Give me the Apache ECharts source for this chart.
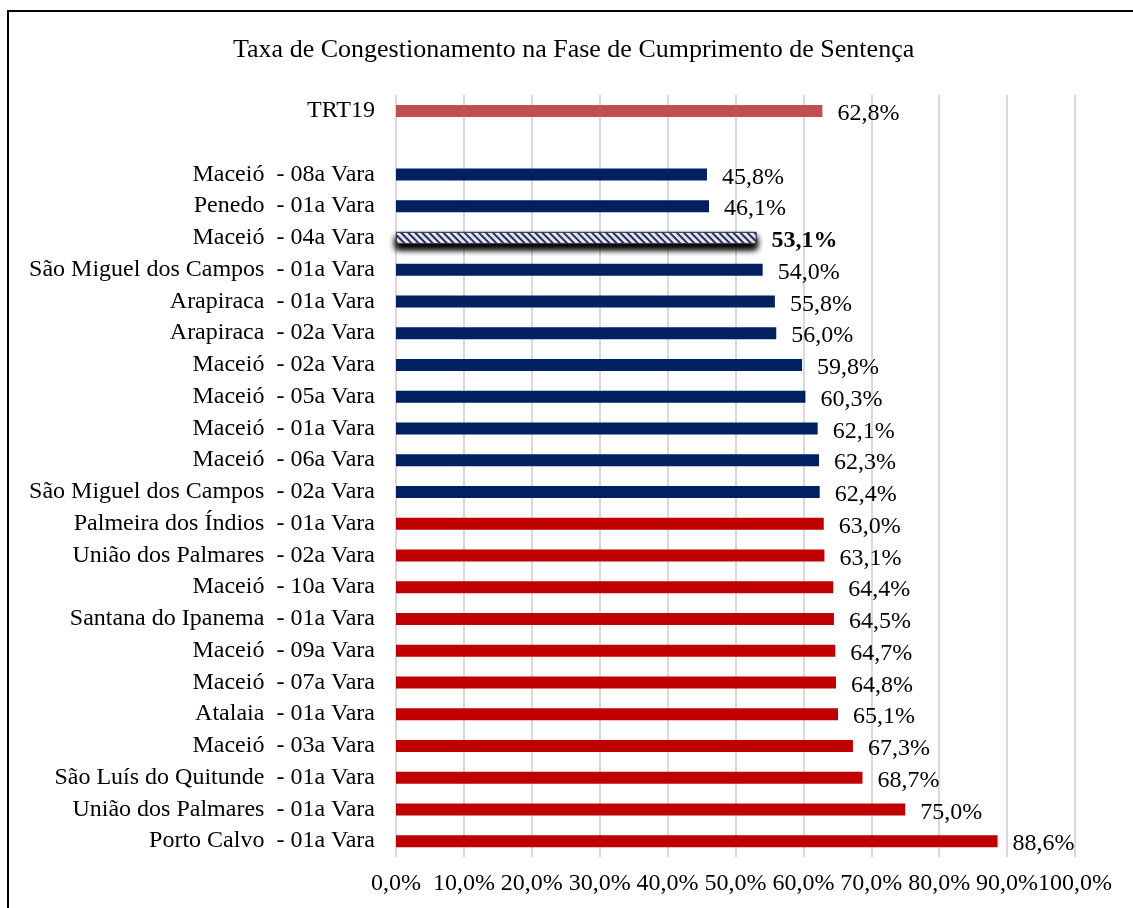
<!DOCTYPE html>
<html>
<head>
    <meta charset="UTF-8"/>
    <script type="text/javascript" src="https://cdn.jsdelivr.net/npm/echarts@6/dist/echarts.min.js"></script>
    <title>Taxa de Congestionamento</title>
    <style>
        body { margin: 0; background: #fff; }
        #barChart { width: 1133px; height: 908px; }
    </style>
</head>
<body>
<div id="barChart"></div>

<script type="application/javascript">
    // categorias (de cima para baixo) e taxas em %
    var categorias = [
        'TRT19', '',
        'Maceió  - 08a Vara', 'Penedo  - 01a Vara', 'Maceió  - 04a Vara',
        'São Miguel dos Campos  - 01a Vara', 'Arapiraca  - 01a Vara', 'Arapiraca  - 02a Vara',
        'Maceió  - 02a Vara', 'Maceió  - 05a Vara', 'Maceió  - 01a Vara', 'Maceió  - 06a Vara',
        'São Miguel dos Campos  - 02a Vara', 'Palmeira dos Índios  - 01a Vara',
        'União dos Palmares  - 02a Vara', 'Maceió  - 10a Vara', 'Santana do Ipanema  - 01a Vara',
        'Maceió  - 09a Vara', 'Maceió  - 07a Vara', 'Atalaia  - 01a Vara', 'Maceió  - 03a Vara',
        'São Luís do Quitunde  - 01a Vara', 'União dos Palmares  - 01a Vara', 'Porto Calvo  - 01a Vara'
    ];
    var taxas = [
        62.8, null,
        45.8, 46.1, 53.1, 54.0, 55.8, 56.0, 59.8, 60.3, 62.1, 62.3, 62.4,
        63.0, 63.1, 64.4, 64.5, 64.7, 64.8, 65.1, 67.3, 68.7, 75.0, 88.6
    ];
    var ticks = [0, 10, 20, 30, 40, 50, 60, 70, 80, 90, 100];
    var referencia = 'TRT19';
    var destaque = 'Maceió  - 04a Vara';

    function fmt(v) {
        return v.toFixed(1).replace('.', ',') + '%';
    }

    function initBar() {
        var myChart = echarts.init(document.getElementById('barChart'));
        var valorRef = taxas[categorias.indexOf(referencia)];

        var dados = [];
        for (var i = 0; i < taxas.length; i++) {
            var cat = categorias[i];
            var v = taxas[i];
            if (v === null) { dados.push(null); continue; }
            var item = { value: v, itemStyle: {}, label: {} };
            if (cat === referencia) {
                item.itemStyle.color = '#C0504D';
            } else if (v < valorRef) {
                item.itemStyle.color = '#002060';
            } else {
                item.itemStyle.color = '#C00000';
            }
            if (cat === destaque) {
                item.itemStyle = {
                    color: '#ffffff',
                    borderColor: '#3b3b5c',
                    borderWidth: 1,
                    shadowColor: 'rgba(0,0,0,0.85)',
                    shadowBlur: 6,
                    shadowOffsetY: 5,
                    decal: {
                        symbol: 'rect',
                        color: '#2a3570',
                        backgroundColor: '#ffffff',
                        dashArrayX: [1, 0],
                        dashArrayY: [1.5, 2.5],
                        rotation: Math.PI / 4
                    }
                };
                item.label = { fontWeight: 'bold' };
            }
            dados.push(item);
        }

        var option = {
            animation: false,
            backgroundColor: '#ffffff',
            title: {
                text: 'Taxa de Congestionamento na Fase de Cumprimento de Sentença',
                left: 228,
                top: 32,
                textStyle: {
                    fontFamily: 'Liberation Serif',
                    fontSize: 26,
                    fontWeight: 'normal',
                    color: '#000'
                }
            },
            graphic: [
                {
                    type: 'rect',
                    shape: { x: 8, y: 11, width: 1300, height: 1000 },
                    style: { fill: 'none', stroke: '#000', lineWidth: 2 },
                    silent: true
                }
            ],
            grid: {
                left: 396,
                right: 58,
                top: 95,
                bottom: 51
            },
            xAxis: {
                type: 'value',
                min: ticks[0],
                max: ticks[ticks.length - 1],
                interval: 10,
                axisLine: { show: false },
                axisTick: { show: false },
                splitLine: { show: true, lineStyle: { color: '#d9d9d9', width: 2 } },
                axisLabel: {
                    margin: 15,
                    fontFamily: 'Liberation Serif',
                    fontSize: 24,
                    color: '#000',
                    hideOverlap: false,
                    formatter: function (v) { return fmt(v); }
                }
            },
            yAxis: {
                type: 'category',
                inverse: true,
                data: categorias,
                axisLine: { show: false },
                axisTick: { show: false },
                axisLabel: {
                    margin: 21,
                    fontFamily: 'Liberation Serif',
                    fontSize: 24,
                    color: '#000'
                }
            },
            series: [
                {
                    type: 'bar',
                    data: dados,
                    barWidth: 12,
                    label: {
                        show: true,
                        position: 'right',
                        distance: 15,
                        fontFamily: 'Liberation Serif',
                        fontSize: 24,
                        color: '#000',
                        offset: [0, 3],
                        formatter: function (p) { return fmt(p.value); }
                    }
                }
            ]
        };
        myChart.setOption(option);
    }

    initBar();
</script>
</body>
</html>
